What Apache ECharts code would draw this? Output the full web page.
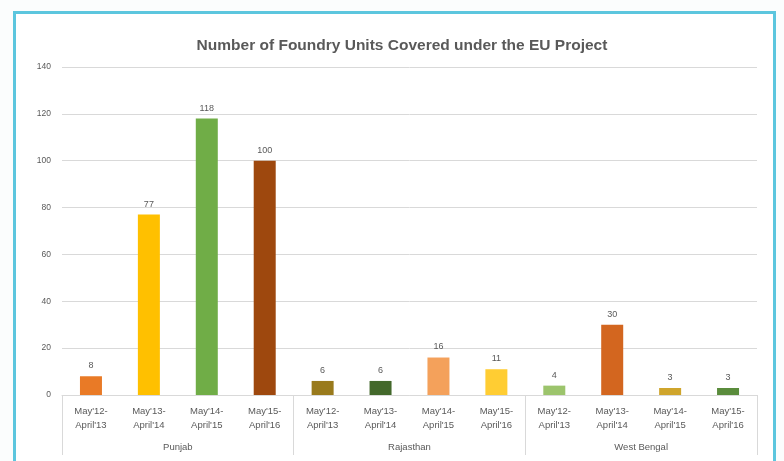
<!DOCTYPE html>
<html lang="en">
  <head>
    <meta charset="UTF-8" />
    <title>Foundry Units</title>
    <script src="https://cdn.jsdelivr.net/npm/echarts@6/dist/echarts.min.js"></script>
    <style>
      body { margin: 0; background: #fbfdfd; }
      #frame {
        position: absolute; left: 13px; top: 11px; width: 763px; height: 460px;
        border: 3px solid #5cc6de; background: #fff; box-sizing: border-box;
      }
      #chart { position: absolute; left: 0; top: 0; width: 784px; height: 461px; }
    </style>
  </head>
  <body>
    <div id="frame"></div>
    <div id="chart"></div>
    <script>
      const periods = [
        "May'12-\nApril'13", "May'13-\nApril'14", "May'14-\nApril'15", "May'15-\nApril'16",
        "May'12-\nApril'13", "May'13-\nApril'14", "May'14-\nApril'15", "May'15-\nApril'16",
        "May'12-\nApril'13", "May'13-\nApril'14", "May'14-\nApril'15", "May'15-\nApril'16"
      ];
      const states = ['Punjab', 'Rajasthan', 'West Bengal'];
      const units = [8, 77, 118, 100, 6, 6, 16, 11, 4, 30, 3, 3];

      // one colour per bar, as in the original
      const barColors = [
        '#e97a26', '#ffc000', '#70ad47', '#9e480e',
        '#997a1c', '#43682b', '#f4a15b', '#ffcd33',
        '#9cc46c', '#d3661f', '#cfa52c', '#5a8c3c'
      ];

      let myChart = echarts.init(document.getElementById('chart'));
      let option = {
        animation: false,
        title: {
          text: 'Number of Foundry Units Covered under the EU Project',
          left: 397,
          textAlign: 'center',
          top: 33,
          textStyle: { fontFamily: 'Liberation Sans', fontSize: 15.5, fontWeight: 'bold', color: '#595959' }
        },
        grid: { left: 62, right: 27, top: 67, bottom: 66 },
        xAxis: [
          {
            type: 'category',
            data: periods,
            axisLine: { lineStyle: { color: '#d9d9d9' } },
            axisTick: { show: false },
            axisLabel: {
              interval: 0, color: '#595959', fontSize: 9.5, lineHeight: 14, margin: 9,
              fontFamily: 'Liberation Sans'
            }
          },
          {
            type: 'category',
            data: states,
            position: 'bottom',
            axisLine: { show: false },
            axisTick: { show: true, length: 60, lineStyle: { color: '#d9d9d9' } },
            axisLabel: { color: '#595959', fontSize: 9.5, margin: 47, fontFamily: 'Liberation Sans' }
          }
        ],
        yAxis: {
          type: 'value',
          min: 0,
          max: 140,
          interval: 20,
          axisLine: { show: false },
          axisTick: { show: false },
          splitLine: { lineStyle: { color: '#d9d9d9' } },
          axisLabel: { color: '#595959', fontSize: 8.5, margin: 11, fontFamily: 'Liberation Sans' }
        },
        series: [
          {
            type: 'bar',
            data: units.map((v, i) => ({ value: v, itemStyle: { color: barColors[i] } })),
            barWidth: 22,
            label: {
              show: true, position: 'top', color: '#595959', fontSize: 9,
              fontFamily: 'Liberation Sans', distance: 6
            }
          }
        ]
      };
      myChart.setOption(option);
    </script>
  </body>
</html>
